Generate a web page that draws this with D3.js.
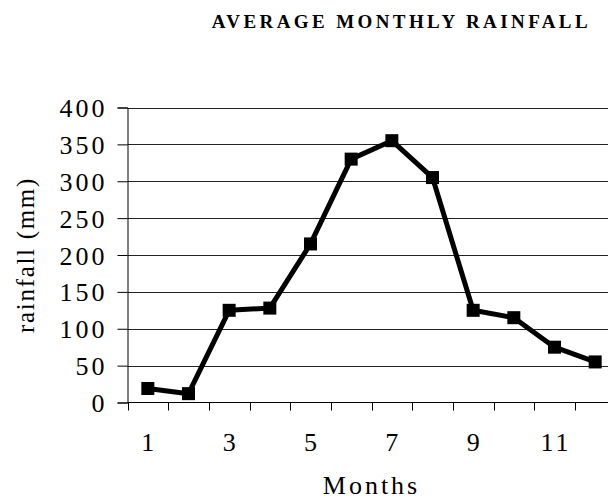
<!DOCTYPE html>
<html>
<head>
<meta charset="utf-8">
<script src="https://cdn.jsdelivr.net/npm/d3@7"></script>
<style>
  html, body { margin: 0; padding: 0; background: #fff; }
  svg { display: block; }
  text { font-family: "Liberation Serif", "Times New Roman", serif; fill: #000; }
</style>
</head>
<body>
<svg id="chart" width="608" height="499"></svg>
<script>
// Average monthly rainfall (mm)
const months = [1, 2, 3, 4, 5, 6, 7, 8, 9, 10, 11, 12];
const rainfall = [19, 12, 125, 128, 215, 330, 355, 305, 125, 115, 75, 55];
const yTicks = [0, 50, 100, 150, 200, 250, 300, 350, 400];
const xTickLabels = [1, 3, 5, 7, 9, 11];

const svg = d3.select("#chart");
const plotLeft = 127.5, plotTop = 107.5, plotW = 488, plotH = 295;

const x = d3.scaleBand().domain(months).range([plotLeft, plotLeft + plotW]);
const y = d3.scaleLinear().domain([0, 400]).range([plotTop + plotH, plotTop]);

// horizontal gridlines
svg.append("g")
  .selectAll("line")
  .data(yTicks.filter(d => d > 0))
  .join("line")
  .attr("x1", plotLeft).attr("x2", plotLeft + plotW)
  .attr("y1", d => Math.round(y(d)) + 0.5).attr("y2", d => Math.round(y(d)) + 0.5)
  .attr("stroke", "#222").attr("stroke-width", 1);

// y axis
const yAxis = svg.append("g")
  .attr("transform", `translate(${plotLeft},0)`)
  .call(d3.axisLeft(y).tickValues(yTicks).tickSize(10).tickPadding(10).tickFormat(d3.format("d")));
yAxis.select(".domain").attr("stroke", "#000");
yAxis.selectAll(".tick line").attr("stroke", "#000");
yAxis.selectAll("text")
  .style("font-family", '"Liberation Serif", serif')
  .style("font-size", "26px")
  .style("letter-spacing", "3px")
  .attr("dy", "0.35em");

// x axis: ticks at month boundaries
const plotBottom = plotTop + plotH;
const xg = svg.append("g");
xg.append("line")
  .attr("x1", plotLeft).attr("x2", plotLeft + plotW)
  .attr("y1", plotBottom).attr("y2", plotBottom)
  .attr("stroke", "#000");
xg.selectAll("line.tk")
  .data(months)
  .join("line")
  .attr("class", "tk")
  .attr("x1", d => Math.round(x(d)) + 0.5).attr("x2", d => Math.round(x(d)) + 0.5)
  .attr("y1", plotBottom).attr("y2", plotBottom + 8)
  .attr("stroke", "#000");
xg.selectAll("text")
  .data(xTickLabels)
  .join("text")
  .attr("x", d => x(d) + x.bandwidth() / 2 + 1.5)
  .attr("y", 451)
  .attr("text-anchor", "middle")
  .style("font-size", "26px")
  .style("letter-spacing", "3px")
  .text(d => d);

// rainfall line
const line = d3.line()
  .x((d, i) => x(months[i]) + x.bandwidth() / 2)
  .y(d => y(d));
svg.append("path")
  .datum(rainfall)
  .attr("d", line)
  .attr("fill", "none")
  .attr("stroke", "#000")
  .attr("stroke-width", 5)
  .attr("stroke-linejoin", "round");

// square markers
const ms = 13;
svg.append("g")
  .selectAll("rect")
  .data(rainfall)
  .join("rect")
  .attr("x", (d, i) => x(months[i]) + x.bandwidth() / 2 - ms / 2)
  .attr("y", d => y(d) - ms / 2)
  .attr("width", ms).attr("height", ms)
  .attr("fill", "#000");

// titles
svg.append("text")
  .attr("x", 591).attr("y", 28)
  .attr("text-anchor", "end")
  .style("font-size", "19px")
  .style("font-weight", "bold")
  .style("letter-spacing", "3.4px")
  .text("AVERAGE MONTHLY RAINFALL");

svg.append("text")
  .attr("transform", `translate(34,${plotTop + plotH / 2}) rotate(-90)`)
  .attr("text-anchor", "middle")
  .style("font-size", "25px")
  .style("letter-spacing", "1.7px")
  .text("rainfall (mm)");

svg.append("text")
  .attr("x", plotLeft + plotW / 2).attr("y", 494)
  .attr("text-anchor", "middle")
  .style("font-size", "26px")
  .style("letter-spacing", "3px")
  .text("Months");
</script>
</body>
</html>
